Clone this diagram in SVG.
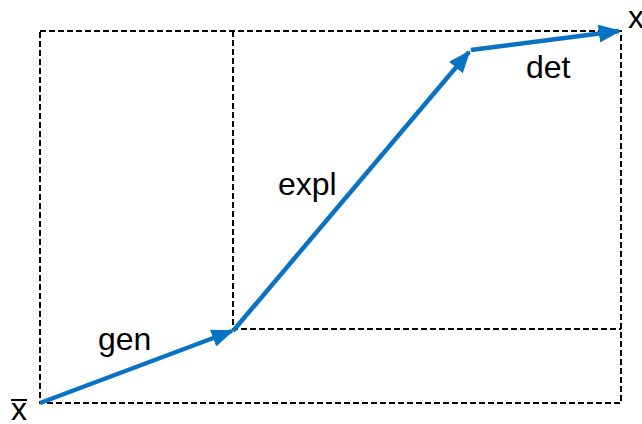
<svg xmlns="http://www.w3.org/2000/svg" width="642" height="424" viewBox="0 0 642 424">
<style>
.box{fill:none;stroke:#000;stroke-width:2;stroke-dasharray:6,3}
.arr{fill:none;stroke:#0A72C2;stroke-width:4.5;marker-end:url(#ah)}
.lbl{font-family:"Liberation Sans",Arial,sans-serif;font-size:32px;fill:#000}
</style>
<defs>
<marker id="ah" markerWidth="5" markerHeight="4" refX="4.5" refY="2" orient="auto" markerUnits="strokeWidth">
<path d="M0,0 L5,2 L0,4 Z" fill="#0A72C2"/>
</marker>
</defs>
<g id="frame">
<rect class="box" x="40" y="31" width="581" height="372"/>
<path class="box" d="M233,31 V329 H621"/>
</g>
<g id="connectors">
<line class="arr" x1="40" y1="403" x2="232" y2="331"/>
<line class="arr" x1="233" y1="331" x2="469" y2="52"/>
<line class="arr" x1="471" y1="50" x2="619" y2="31"/>
</g>
<g id="labels">
<text class="lbl" x="98" y="350">gen</text>
<text class="lbl" x="278" y="195">expl</text>
<text class="lbl" x="526" y="78">det</text>
<text class="lbl" x="11" y="420">x</text>
<line x1="11" y1="400" x2="27" y2="400" stroke="#000" stroke-width="2"/>
<text class="lbl" x="628" y="28">x</text>
</g>
</svg>
